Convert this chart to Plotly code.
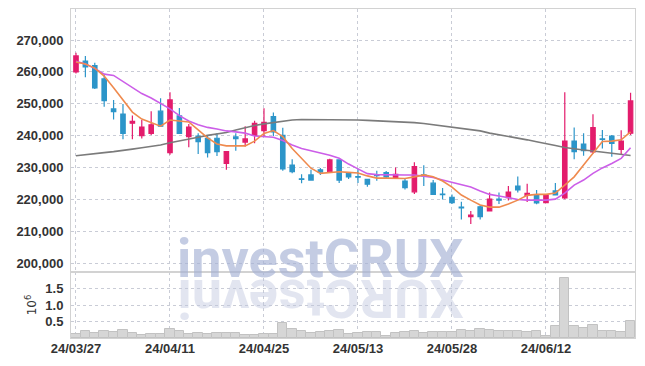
import plotly.graph_objects as go

dates = ["24/03/27", "24/03/28", "24/03/29", "24/04/01", "24/04/02", "24/04/03", "24/04/04", "24/04/05", "24/04/08", "24/04/09",
         "24/04/11", "24/04/12", "24/04/15", "24/04/16", "24/04/17", "24/04/18", "24/04/19", "24/04/22", "24/04/23", "24/04/24",
         "24/04/25", "24/04/26", "24/04/29", "24/04/30", "24/05/02", "24/05/03", "24/05/07", "24/05/08", "24/05/09", "24/05/10",
         "24/05/13", "24/05/14", "24/05/16", "24/05/17", "24/05/20", "24/05/21", "24/05/22", "24/05/23", "24/05/24", "24/05/27",
         "24/05/28", "24/05/29", "24/05/30", "24/05/31", "24/06/03", "24/06/04", "24/06/05", "24/06/07", "24/06/10", "24/06/11",
         "24/06/12", "24/06/13", "24/06/14", "24/06/17", "24/06/18", "24/06/19", "24/06/20", "24/06/21", "24/06/24", "24/06/25"]

opens = [260000, 263400, 262000, 257800, 248400, 246800, 243900, 240000, 240700, 247700,
         234700, 246200, 239700, 239900, 239200, 239200, 231300, 239600, 238000, 240100,
         241600, 246000, 240100, 230800, 226500, 227700, 229300, 228700, 232400, 228200,
         227200, 226300, 227700, 228400, 226600, 225800, 222400, 227700, 225100, 221700,
         220700, 217600, 214600, 217700, 216400, 220100, 220600, 224200, 221300, 221400,
         219000, 222700, 220500, 238300, 237400, 234900, 239000, 239900, 235700, 240800]
highs = [266000, 265000, 262900, 259000, 251200, 249900, 246300, 244900, 247700, 251700,
         253600, 248700, 243700, 240800, 240200, 240800, 235200, 240800, 243000, 244700,
         248600, 247300, 242500, 232600, 227900, 229300, 229900, 232800, 232400, 228300,
         229600, 226400, 229000, 228900, 230000, 226700, 231700, 230700, 226100, 223600,
         221600, 219300, 216400, 218000, 222200, 222200, 224200, 227200, 224900, 223000,
         221700, 225200, 253600, 242600, 240800, 246700, 241800, 240200, 241700, 253500]
lows = [259500, 258300, 254600, 249100, 245100, 238900, 238900, 239100, 240200, 242700,
        234000, 240500, 236400, 234300, 233200, 233600, 229300, 235300, 236600, 237600,
        239900, 239900, 229000, 228200, 225100, 226000, 227700, 228600, 225200, 226400,
        225200, 224000, 225900, 226600, 226400, 223100, 221700, 224200, 221400, 220000,
        218600, 213700, 212300, 213700, 216200, 218600, 219700, 222200, 219200, 218500,
        218900, 221300, 220100, 232600, 233700, 234400, 236000, 233400, 234300, 240200]
closes = [265000, 261600, 255000, 251000, 247500, 240700, 244500, 242700, 243400, 243000,
          251200, 240700, 242700, 238100, 234700, 235000, 235000, 239100, 239000, 243900,
          244200, 241200, 229600, 228700, 226300, 226100, 228600, 232400, 226100, 227100,
          227000, 224800, 227500, 227100, 227900, 223700, 230300, 227400, 221600, 221500,
          219000, 217400, 215100, 214600, 220100, 219800, 222300, 223000, 221900, 218900,
          221400, 221400, 238300, 235000, 235300, 242500, 238800, 237600, 238300, 250900]

# volume in units of 10^6 shares
volume = [0.11, 0.20, 0.15, 0.20, 0.17, 0.25, 0.14, 0.10, 0.13, 0.11,
          0.28, 0.20, 0.11, 0.16, 0.12, 0.16, 0.16, 0.14, 0.10, 0.10,
          0.13, 0.13, 0.44, 0.26, 0.20, 0.14, 0.18, 0.20, 0.23, 0.11,
          0.15, 0.17, 0.17, 0.07, 0.14, 0.17, 0.20, 0.15, 0.17, 0.17,
          0.17, 0.25, 0.21, 0.28, 0.23, 0.20, 0.22, 0.20, 0.17, 0.22,
          0.07, 0.37, 1.82, 0.37, 0.31, 0.40, 0.20, 0.22, 0.17, 0.53]

ma5 = [263100, 262500, 261200, 258700, 255000, 251200, 247400, 245200, 244000, 243000,
       244900, 244600, 244300, 241800, 239300, 237400, 236800, 236800, 236800, 238300,
       240700, 241600, 239700, 236000, 232900, 229800, 228200, 228400, 228700, 228500,
       228300, 227400, 226700, 226700, 226700, 226600, 227100, 227700, 227100, 225800,
       223900, 221400, 219800, 218300, 217600, 217600, 218600, 219800, 221300, 221600,
       221600, 222000, 224500, 227100, 230800, 234600, 238200, 238300, 238700, 241200]
ma10 = [263300, 262500, 261100, 259300, 258900, 257000, 255000, 253200, 251800, 250200,
        248400, 246300, 244600, 243400, 242600, 242100, 241500, 241200, 240800, 239900,
        239700, 239500, 238500, 237100, 236000, 235300, 234600, 233900, 232900, 231100,
        229600, 228100, 227800, 227700, 227700, 227700, 227700, 227400, 226900, 226100,
        225300, 224700, 223900, 222700, 221600, 221100, 220600, 220000, 219800, 219700,
        219800, 220100, 222000, 224500, 226100, 228200, 229900, 231300, 232900, 236200]
ma60 = [233700, 234100, 234400, 234700, 235000, 235500, 235800, 236200, 236600, 237100,
        237800, 238300, 239000, 239500, 240100, 240500, 241000, 241800, 242600, 243200,
        243700, 244100, 244600, 244900, 245100, 245100, 244900, 245100, 245100, 245000,
        244900, 244800, 244700, 244600, 244400, 244300, 244100, 243800, 243400, 243000,
        242600, 242300, 242000, 241500, 240800, 240300, 239800, 239400, 238700, 238100,
        237600, 236900, 236300, 235800, 235500, 235200, 234900, 234500, 234100, 233800]

tick_dates = ["24/03/27", "24/04/11", "24/04/25", "24/05/13", "24/05/28", "24/06/12"]
price_ticks = [200000, 210000, 220000, 230000, 240000, 250000, 260000, 270000]
vol_ticks = [0.5, 1.0, 1.5]
vol_tick_text = ["0.5", "1.0", "1.5"]

RED = "#e31c6c"
BLUE = "#2c95c9"
GRID = "#c9ccd6"
FRAME = "#d2d2d2"
TICKFONT = dict(family="Liberation Sans, Arial, sans-serif",
                size=13, color="#333333", weight="bold")

fig = go.Figure()
fig.add_trace(go.Bar(x=dates, y=volume, xaxis="x", yaxis="y",
                     marker=dict(color="#d6d6d6", line=dict(color="#c2c2c2", width=1)),
                     hoverinfo="skip"))
fig.add_trace(go.Candlestick(x=dates, open=opens, high=highs, low=lows, close=closes,
                             xaxis="x2", yaxis="y2",
                             increasing=dict(line=dict(color=RED, width=1.2), fillcolor=RED),
                             decreasing=dict(line=dict(color=BLUE, width=1.2), fillcolor=BLUE)))
fig.add_trace(go.Scatter(x=dates, y=ma60, mode="lines", xaxis="x2", yaxis="y2",
                         line=dict(color="#7b7b7b", width=1.6)))
fig.add_trace(go.Scatter(x=dates, y=ma10, mode="lines", xaxis="x2", yaxis="y2",
                         line=dict(color="#cc5ee8", width=1.6)))
fig.add_trace(go.Scatter(x=dates, y=ma5, mode="lines", xaxis="x2", yaxis="y2",
                         line=dict(color="#ef8a4e", width=1.6)))

axis_common = dict(showgrid=True, griddash="dot", gridcolor=GRID, gridwidth=1,
                   showline=True, mirror=True, linecolor=FRAME, linewidth=1,
                   zeroline=False, ticks="", automargin=False)

VSPLIT = 66 / 329

# the page body has an 8px margin, so the figure is sized/offset to compensate
fig.update_layout(
    width=629, height=350,
    margin=dict(l=63, r=2, t=1, b=20),
    paper_bgcolor="white", plot_bgcolor="white",
    showlegend=False, bargap=0, boxgap=0.33,
    xaxis=dict(domain=[0, 1], anchor="y", type="category", range=[-0.53, 59.47],
               tickmode="array", tickvals=tick_dates, ticktext=tick_dates,
               tickfont=TICKFONT, ticklabelstandoff=-2, **axis_common),
    xaxis2=dict(domain=[0, 1], anchor="y2", matches="x", type="category",
                showticklabels=False, rangeslider=dict(visible=False),
                tickmode="array", tickvals=tick_dates, **axis_common),
    yaxis=dict(domain=[0, VSPLIT], range=[0, 2.0], tickmode="array",
               tickvals=vol_ticks, ticktext=vol_tick_text, tickfont=TICKFONT,
               ticklabelstandoff=4,
               title=dict(text="10<sup>6</sup>", font=dict(family="DejaVu Sans", size=12, color="#333"),
                          standoff=6),
               **axis_common),
    yaxis2=dict(domain=[VSPLIT, 1], range=[197268, 279719], tickmode="array",
                tickvals=price_ticks, tickformat=",d", tickfont=TICKFONT,
                ticklabelstandoff=4,
                **axis_common),
)

WM_FONT = "Roboto, Liberation Sans, sans-serif"
fig.add_annotation(text="investCRUX", xref="paper", yref="paper", x=0.4424, y=0.243,
                   xanchor="center", yanchor="middle", showarrow=False,
                   font=dict(family=WM_FONT, size=54, color="rgba(165,177,212,0.65)", weight="bold"))
fig.add_annotation(text="XURCtsevni", xref="paper", yref="paper", x=0.4424, y=0.120,
                   xanchor="center", yanchor="middle", showarrow=False, textangle=180,
                   font=dict(family=WM_FONT, size=54, color="rgba(190,198,222,0.45)", weight="bold"))

fig.write_html("out.html")
